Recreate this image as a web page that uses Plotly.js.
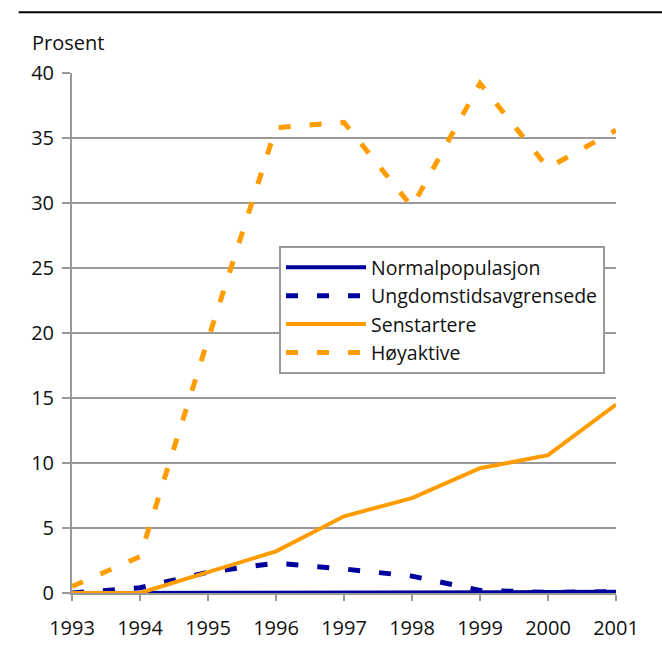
<!DOCTYPE html>
<html>
<head>
<meta charset="utf-8">
<script src="https://cdn.plot.ly/plotly-3.0.1.min.js"></script>
<style>html,body{margin:0;padding:0;background:#fff;}#chart{width:662px;height:646px;}</style>
</head>
<body>
<div id="chart"></div>
<script>
const years = [1993, 1994, 1995, 1996, 1997, 1998, 1999, 2000, 2001];
const normalpopulasjon = [0, 0, 0, 0.03, 0.05, 0.05, 0.05, 0.07, 0.1];
const ungdomstidsavgrensede = [0, 0.4, 1.6, 2.3, 1.85, 1.3, 0.2, 0.05, 0.1];
const senstartere = [0, 0, 1.6, 3.2, 5.9, 7.3, 9.6, 10.6, 14.5];
const hoyaktive = [0.5, 2.8, 19.5, 35.8, 36.2, 29.7, 39.2, 32.7, 35.6];
const yTicks = [0, 5, 10, 15, 20, 25, 30, 35, 40];

const navy = '#00009c';
const orange = '#ff9c00';

const traces = [
  {x: years, y: normalpopulasjon, name: 'Normalpopulasjon', mode: 'lines', line: {color: navy, width: 4}},
  {x: years, y: ungdomstidsavgrensede, name: 'Ungdomstidsavgrensede', mode: 'lines', line: {color: navy, width: 5, dash: '12px,19px'}},
  {x: years, y: senstartere, name: 'Senstartere', mode: 'lines', line: {color: orange, width: 4}},
  {x: years, y: hoyaktive, name: 'Høyaktive', mode: 'lines', line: {color: orange, width: 5, dash: '12px,19px'}}
];

const layout = {
  width: 662, height: 646,
  margin: {l: 72, r: 46, t: 73, b: 53},
  paper_bgcolor: '#fff', plot_bgcolor: '#fff',
  font: {family: 'Open Sans, DejaVu Sans, sans-serif', size: 20, color: '#111'},
  showlegend: true,
  legend: {
    x: 0.3805, y: 0.667, xanchor: 'left', yanchor: 'top',
    bgcolor: '#fff', bordercolor: '#999', borderwidth: 2,
    font: {size: 19.5, color: '#111'}, itemwidth: 80, tracegroupgap: 0
  },
  xaxis: {
    range: [1993, 2001], tickvals: years, ticktext: years.map(String),
    showgrid: false, zeroline: false, showline: true, linecolor: '#999', linewidth: 2,
    ticks: 'outside', ticklen: 6, tickcolor: '#999', tickwidth: 2,
    tickfont: {size: 20}, ticklabelstandoff: 10, fixedrange: true
  },
  yaxis: {
    range: [0, 40], tickvals: yTicks,
    showgrid: true, gridcolor: '#999', gridwidth: 2, zeroline: false,
    showline: true, linecolor: '#999', linewidth: 2,
    ticks: 'outside', ticklen: 8, tickcolor: '#999', tickwidth: 2,
    tickfont: {size: 20}, ticklabelstandoff: 4, fixedrange: true
  },
  shapes: [
    {type: 'line', xref: 'paper', yref: 'paper', x0: -0.098, x1: 1.09, y0: 1.117, y1: 1.117, line: {color: '#000', width: 2}}
  ],
  annotations: [
    {text: 'Prosent', xref: 'paper', yref: 'paper', x: -0.0772, y: 1.0577, xanchor: 'left', yanchor: 'middle', showarrow: false, font: {size: 20, color: '#111'}}
  ]
};

Plotly.newPlot('chart', traces, layout, {displayModeBar: false, staticPlot: true});
</script>
</body>
</html>
